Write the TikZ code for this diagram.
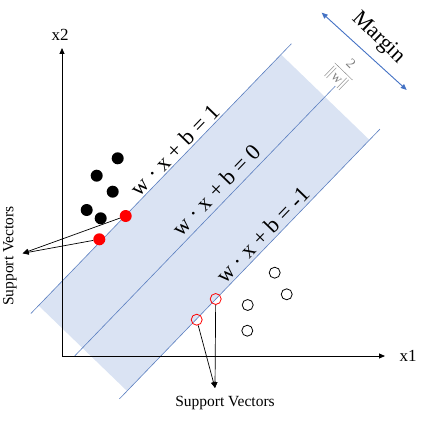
\documentclass[tikz,border=0pt]{standalone}
\usepackage{fontspec}
\setmainfont{Liberation Serif}
\usetikzlibrary{arrows.meta}
\definecolor{bandfill}{HTML}{DAE3F3}
\definecolor{bandline}{HTML}{5B7FC0}
\definecolor{marginblue}{HTML}{4472C4}
\begin{document}
\begin{tikzpicture}[x=1pt,y=1pt,
  hyper/.style={draw=bandline,line width=0.6pt},
  axis/.style={draw=black,line width=0.8pt,-{Triangle[length=6pt,width=5pt]}},
  pointer/.style={draw=black,line width=0.7pt,-{Triangle[length=6pt,width=5pt]}},
  blackdot/.style={circle,fill=black,inner sep=0pt,minimum size=12pt},
  reddot/.style={circle,fill=red,inner sep=0pt,minimum size=12pt},
  opendot/.style={circle,draw=black,line width=0.8pt,fill=white,inner sep=0pt,minimum size=11pt},
  redopen/.style={circle,draw=red,line width=0.8pt,inner sep=0pt,minimum size=11pt},
  eqlabel/.style={font=\fontsize{22.5}{26}\selectfont,rotate=46,inner sep=0pt},
  axlabel/.style={font=\fontsize{17}{20}\selectfont,inner sep=0pt},
  svlabel/.style={font=\fontsize{15.5}{18}\selectfont,inner sep=0pt}]
\useasboundingbox (0,0) rectangle (441,421);
% band
\begin{scope}[shift={(0,421)},rotate=46]
  \fill[bandfill] (-193,-240) rectangle (156,-363);
  \draw[hyper] (-204,-240) -- (171,-240);
  \draw[hyper] (-204,-301) -- (171,-301);
  \draw[hyper] (-204,-363) -- (171,-363);
  \node[eqlabel] (eq1) at (13.5,-230) {w · x + b = 1};
  \node[eqlabel] (eq0) at (13.5,-287.5) {w · x + b = 0};
  \node[eqlabel] (eqm) at (13.5,-352) {w · x + b = -1};
\end{scope}
% axes
\coordinate (O) at (62,65);
\coordinate (ytip) at (62,373);
\coordinate (xtip) at (385,65);
\draw[axis] (O) -- (ytip);
\draw[axis] (O) -- (xtip);
\node[axlabel] (x2) at (60,386) {x2};
\node[axlabel] (x1) at (408,65) {x1};
% points
\node[blackdot] (b1) at (117.7,262.7) {};
\node[blackdot] (b2) at (96.7,245.3) {};
\node[blackdot] (b3) at (112.7,229.3) {};
\node[blackdot] (b4) at (86.7,211) {};
\node[blackdot] (b5) at (100.7,202.7) {};
\node[reddot] (r1) at (125.7,205) {};
\node[reddot] (r2) at (99.3,181.7) {};
\node[opendot] (o1) at (274.7,148.3) {};
\node[opendot] (o2) at (286.7,126.7) {};
\node[opendot] (o3) at (247.7,116) {};
\node[opendot] (o4) at (247.3,90.3) {};
\node[redopen] (ro1) at (215.7,122) {};
\node[redopen] (ro2) at (196.7,101.3) {};
% support vector labels
\coordinate (svl) at (22.7,167.7);
\node[svlabel,rotate=90] (svleft) at (10,165) {Support Vectors};
\draw[pointer] (r1) -- (svl);
\draw[pointer] (r2) -- (svl);
\coordinate (svb) at (215,33);
\node[svlabel] (svbottom) at (225,18) {Support Vectors};
\draw[pointer] (ro1) -- (svb);
\draw[pointer] (ro2) -- (svb);
% margin
\coordinate (m1) at (321.7,408.3);
\coordinate (m2) at (406.7,331);
\draw[marginblue,line width=0.9pt,{Triangle[length=6pt,width=5pt]}-{Triangle[length=6pt,width=5pt]}] (m1) -- (m2);
\node[font=\fontsize{22}{26}\selectfont,rotate=-44,inner sep=0pt] (margin) at (378,383) {Margin};
\node[text=gray,rotate=-44,inner sep=0pt,font=\fontsize{14}{16}\selectfont] (frac) at (343,349) {$\displaystyle\frac{\mbox{2}}{\|\mbox{w}\|}$};
\end{tikzpicture}
\end{document}
